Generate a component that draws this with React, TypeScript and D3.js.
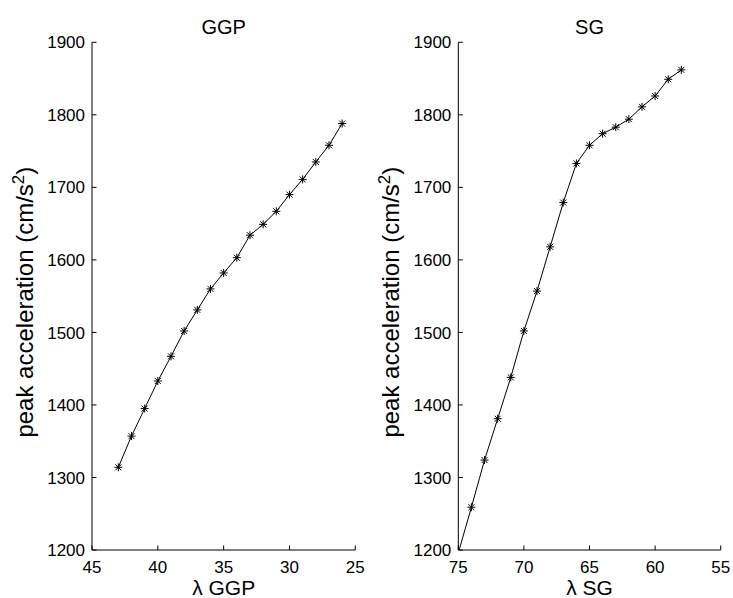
import React from "react";
import * as d3 from "d3";

const yTicks = [1200, 1300, 1400, 1500, 1600, 1700, 1800, 1900];
const ggpTicks = [45, 40, 35, 30, 25];
const sgTicks = [75, 70, 65, 60, 55];

const ggpLambda = [43, 42, 41, 40, 39, 38, 37, 36, 35, 34, 33, 32, 31, 30, 29, 28, 27, 26];
const ggpPeak = [1314, 1357, 1395, 1433, 1467, 1502, 1531, 1560, 1582, 1603, 1634, 1649, 1667, 1690, 1711, 1735, 1758, 1788];

const sgLambda = [75, 74, 73, 72, 71, 70, 69, 68, 67, 66, 65, 64, 63, 62, 61, 60, 59, 58];
const sgPeak = [1196, 1259, 1324, 1381, 1438, 1502, 1557, 1618, 1679, 1733, 1758, 1774, 1783, 1794, 1811, 1826, 1849, 1862];

const FONT = "'Liberation Sans', Arial, Helvetica, sans-serif";

type PanelProps = {
  id: string;
  title: string;
  xLabel: string;
  xDomain: [number, number];
  xRange: [number, number];
  xTicks: number[];
  xs: number[];
  ys: number[];
};

const TOP = 42.3;
const BOTTOM = 550;

function Panel({ id, title, xLabel, xDomain, xRange, xTicks, xs, ys }: PanelProps) {
  const x = d3.scaleLinear().domain(xDomain).range(xRange);
  const y = d3.scaleLinear().domain([1200, 1900]).range([BOTTOM, TOP]);
  const pts: [number, number][] = xs.map((v, i) => [v, ys[i]]);
  const line = d3
    .line<[number, number]>()
    .x((d) => x(d[0]))
    .y((d) => y(d[1]));
  const left = xRange[0];
  const right = xRange[1];
  const cx = (left + right) / 2;
  const cy = (TOP + BOTTOM) / 2 + 6;
  const r = 4;
  const rd = 3;
  const tickLen = 4.5;
  return (
    <g>
      <defs>
        <clipPath id={`clip-${id}`}>
          <rect x={left} y={TOP} width={right - left} height={BOTTOM - TOP} />
        </clipPath>
      </defs>
      <path d={line(pts) || ""} fill="none" stroke="#000" strokeWidth={1} clipPath={`url(#clip-${id})`} />
      {pts
        .filter((d) => d[1] >= 1200 && d[1] <= 1900)
        .map((d, i) => {
          const px = x(d[0]);
          const py = y(d[1]);
          return (
            <g key={i} stroke="#000" strokeWidth={1}>
              <line x1={px - r} y1={py} x2={px + r} y2={py} />
              <line x1={px} y1={py - r} x2={px} y2={py + r} />
              <line x1={px - rd} y1={py - rd} x2={px + rd} y2={py + rd} />
              <line x1={px - rd} y1={py + rd} x2={px + rd} y2={py - rd} />
            </g>
          );
        })}
      <line x1={left} y1={TOP} x2={left} y2={BOTTOM} stroke="#000" strokeWidth={1} />
      <line x1={left} y1={BOTTOM} x2={right} y2={BOTTOM} stroke="#000" strokeWidth={1} />
      {yTicks.map((t) => (
        <g key={`y${t}`}>
          <line x1={left} y1={y(t)} x2={left + tickLen} y2={y(t)} stroke="#000" strokeWidth={1} />
          <text x={left - 7} y={y(t)} dy="0.36em" textAnchor="end" fontSize={17} fontFamily={FONT}>
            {t}
          </text>
        </g>
      ))}
      {xTicks.map((t) => (
        <g key={`x${t}`}>
          <line x1={x(t)} y1={BOTTOM} x2={x(t)} y2={BOTTOM - tickLen} stroke="#000" strokeWidth={1} />
          <text x={x(t)} y={573} textAnchor="middle" fontSize={17} fontFamily={FONT}>
            {t}
          </text>
        </g>
      ))}
      <text x={cx} y={595} textAnchor="middle" fontSize={21} fontFamily={FONT}>
        {xLabel}
      </text>
      <text x={cx} y={34} textAnchor="middle" fontSize={20} fontFamily={FONT}>
        {title}
      </text>
      <text
        transform={`translate(${left - 59},${cy}) rotate(-90)`}
        textAnchor="middle"
        fontSize={24}
        fontFamily={FONT}
      >
        peak acceleration (cm/s
        <tspan fontSize={17} dy={-9}>
          2
        </tspan>
        <tspan dy={9}>)</tspan>
      </text>
    </g>
  );
}

export default function App() {
  return (
    <svg
      width={733}
      height={598}
      style={{ position: "absolute", left: 0, top: 0, background: "#fff" }}
    >
      <rect width={733} height={598} fill="#fff" />
      <Panel
        id="ggp"
        title="GGP"
        xLabel="λ GGP"
        xDomain={[45, 25]}
        xRange={[92, 355.3]}
        xTicks={ggpTicks}
        xs={ggpLambda}
        ys={ggpPeak}
      />
      <Panel
        id="sg"
        title="SG"
        xLabel="λ SG"
        xDomain={[75, 55]}
        xRange={[458.3, 720.7]}
        xTicks={sgTicks}
        xs={sgLambda}
        ys={sgPeak}
      />
    </svg>
  );
}
